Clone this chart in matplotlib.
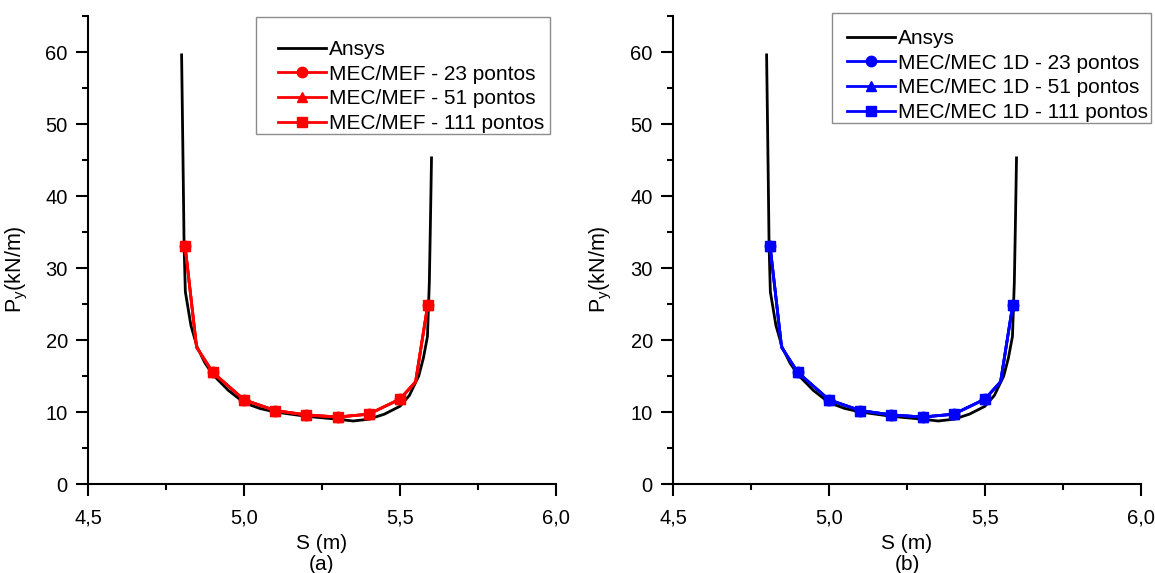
import matplotlib
matplotlib.use("Agg")
import matplotlib.pyplot as plt
from matplotlib.patches import Rectangle
from matplotlib.ticker import MultipleLocator, FuncFormatter

plt.rcParams["font.family"] = ["Liberation Sans", "DejaVu Sans"]
plt.rcParams["mathtext.fontset"] = "custom"
plt.rcParams["mathtext.rm"] = "Liberation Sans"

# Ansys reference curve
ansys_s = [4.800, 4.803, 4.806, 4.808, 4.812, 4.83, 4.85, 4.875, 4.90, 4.95,
           5.00, 5.05, 5.10, 5.15, 5.20, 5.25, 5.30, 5.35, 5.40, 5.45,
           5.50, 5.53, 5.56, 5.575, 5.588, 5.594, 5.597, 5.601]
ansys_p = [59.6, 50.0, 40.0, 33.0, 26.7, 22.0, 19.0, 16.8, 15.2, 13.0,
           11.3, 10.5, 10.0, 9.7, 9.4, 9.2, 9.0, 8.75, 9.0, 9.7,
           10.8, 12.3, 15.0, 17.5, 20.5, 28.0, 35.0, 45.3]

# coupled solutions (same points for the three meshes, overlapping)
mec_s = [4.811, 4.848, 4.90, 5.00, 5.10, 5.20, 5.30, 5.40, 5.50, 5.55, 5.589]
mef_23 = [33.1, 19.0, 15.5, 11.7, 10.2, 9.6, 9.3, 9.7, 11.8, 14.2, 24.9]
mef_51 = [33.1, 19.0, 15.5, 11.7, 10.2, 9.6, 9.3, 9.7, 11.8, 14.2, 24.9]
mef_111 = [33.1, 19.0, 15.5, 11.7, 10.2, 9.6, 9.3, 9.7, 11.8, 14.2, 24.9]
mec1d_23 = [33.1, 19.0, 15.5, 11.7, 10.2, 9.6, 9.3, 9.7, 11.8, 14.2, 24.9]
mec1d_51 = [33.1, 19.0, 15.5, 11.7, 10.2, 9.6, 9.3, 9.7, 11.8, 14.2, 24.9]
mec1d_111 = [33.1, 19.0, 15.5, 11.7, 10.2, 9.6, 9.3, 9.7, 11.8, 14.2, 24.9]
marked = [0, 2, 3, 4, 5, 6, 7, 8, 10]

panels = [
    ("(a)", "red", "MEC/MEF", [mef_23, mef_51, mef_111]),
    ("(b)", "blue", "MEC/MEC 1D", [mec1d_23, mec1d_51, mec1d_111]),
]
mesh_labels = ["23 pontos", "51 pontos", "111 pontos"]
markers = ["o", "^", "s"]

W, H = 1155, 573
fig = plt.figure(figsize=(W / 100, H / 100), dpi=100)

ax_boxes = [(88, 556), (673, 1141)]
# frame (x0, y0, x1, y1) in pixels, and offset of the handles from the frame
legend_boxes = [(256, 17, 550, 134, 22), (832, 13, 1151, 123, 15)]

for (tag, color, name, series), (x0, x1), (lx0, ly0, lx1, ly1, off) in zip(panels, ax_boxes, legend_boxes):
    ax = fig.add_axes([x0 / W, 1 - 484 / H, (x1 - x0) / W, (484 - 16) / H])
    ax.plot(ansys_s, ansys_p, color="black", lw=2.0, label="Ansys")
    for vals, mk, ml in zip(series, markers, mesh_labels):
        ax.plot(mec_s, vals, color=color, lw=2.0, marker=mk, markersize=7.5,
                markevery=marked, label=f"{name} - {ml}")

    ax.set_xlim(4.5, 6.0)
    ax.set_ylim(0, 65)
    ax.xaxis.set_major_locator(MultipleLocator(0.5))
    ax.xaxis.set_minor_locator(MultipleLocator(0.25))
    ax.yaxis.set_major_locator(MultipleLocator(10))
    ax.yaxis.set_minor_locator(MultipleLocator(5))
    ax.xaxis.set_major_formatter(FuncFormatter(lambda v, p: f"{v:.1f}".replace(".", ",")))
    for side in ("top", "right"):
        ax.spines[side].set_visible(False)
    for side in ("left", "bottom"):
        ax.spines[side].set_linewidth(1.5)
    ax.tick_params(which="major", direction="out", length=8.5, width=1.5,
                   labelsize=14.5, pad=6)
    ax.tick_params(which="minor", direction="out", length=4, width=1.5)
    ax.tick_params(axis="x", which="major", pad=9)

    ax.set_xlabel(f"S (m)\n{tag}", fontsize=15, linespacing=1.15, labelpad=5)
    ax.set_ylabel(r"P$_\mathregular{y}$(kN/m)", fontsize=15.5)
    ax.yaxis.set_label_coords(-0.125, 0.46)

    # legend with the Origin-style frame (extra room at the top)
    fig.patches.append(Rectangle((lx0 / W, 1 - ly1 / H), (lx1 - lx0) / W, (ly1 - ly0) / H,
                                 transform=fig.transFigure, fill=False,
                                 edgecolor="#8c8c8c", lw=1.0, zorder=5))
    ax.legend(loc="lower left", bbox_to_anchor=((lx0 + off) / W, 1 - (ly1 - 1) / H),
              bbox_transform=fig.transFigure, frameon=False, fontsize=15,
              handlelength=2.3, handletextpad=0.15, labelspacing=0.27,
              borderpad=0, borderaxespad=0)

fig.savefig("out.png", dpi=100)
